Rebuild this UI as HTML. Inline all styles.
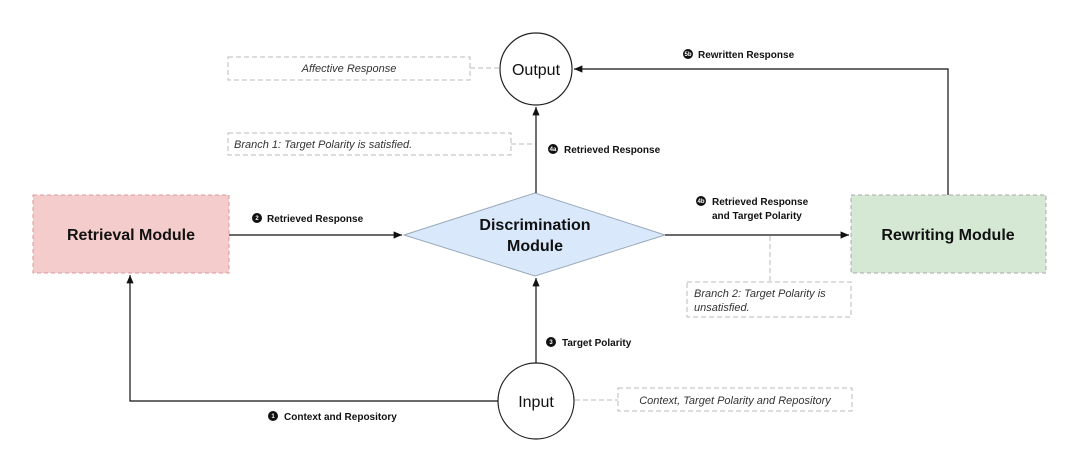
<!DOCTYPE html>
<html><head><style>
body{margin:0;background:#fff;}
svg text{font-family:"Liberation Sans",sans-serif;}
</style></head><body>
<svg width="1080" height="457" viewBox="0 0 1080 457" xmlns="http://www.w3.org/2000/svg">
<defs><marker id="a" markerWidth="8" markerHeight="8" refX="7" refY="4" orient="auto"><path d="M0,1 L7,4 L0,7 z" fill="#111"/></marker></defs>
<g fill="none" stroke="#bbb" stroke-dasharray="5,3">
<rect x="228" y="57" width="242" height="23"/>
<line x1="470" y1="68" x2="499" y2="68"/>
<rect x="228" y="133" width="283" height="22"/>
<line x1="511" y1="144" x2="536" y2="144"/>
<rect x="687" y="282" width="164" height="35"/>
<line x1="770" y1="236" x2="770" y2="282"/>
<rect x="618" y="388" width="234" height="23"/>
<line x1="575" y1="400" x2="618" y2="400"/>
</g>
<rect x="33" y="195" width="196" height="78" fill="#f4cccc" stroke="#d99" stroke-dasharray="4,3"/>
<rect x="851" y="195" width="195" height="78" fill="#d5e8d4" stroke="#aaa" stroke-dasharray="4,3"/>
<polygon points="404,235 535,193 665,235 535,276" fill="#dae8fc" stroke="#9ab"/>
<circle cx="536" cy="69" r="36" fill="#fff" stroke="#222" stroke-width="1.2"/>
<circle cx="536" cy="401" r="38" fill="#fff" stroke="#222" stroke-width="1.2"/>
<g stroke="#111" stroke-width="1.2" fill="none">
<line x1="229" y1="235" x2="402" y2="235" marker-end="url(#a)"/>
<line x1="665" y1="235" x2="849" y2="235" marker-end="url(#a)"/>
<line x1="536" y1="193" x2="536" y2="107" marker-end="url(#a)"/>
<line x1="536" y1="363" x2="536" y2="278" marker-end="url(#a)"/>
<polyline points="498,401 130,401 130,275" marker-end="url(#a)"/>
<polyline points="948,195 948,69 574,69" marker-end="url(#a)"/>
</g>
<g font-size="16" font-weight="bold" fill="#111" text-anchor="middle">
<text x="131" y="240">Retrieval Module</text>
<text x="948" y="240">Rewriting Module</text>
<text x="535" y="230">Discrimination</text>
<text x="535" y="251">Module</text>
</g>
<text x="536" y="75" font-size="16" text-anchor="middle" fill="#111">Output</text>
<text x="536" y="407" font-size="16" text-anchor="middle" fill="#111">Input</text>
<g font-size="11" font-style="italic" fill="#333">
<text x="349" y="72" text-anchor="middle">Affective Response</text>
<text x="234" y="148">Branch 1: Target Polarity is satisfied.</text>
<text x="694" y="297">Branch 2: Target Polarity is</text>
<text x="694" y="311">unsatisfied.</text>
<text x="735" y="404" text-anchor="middle">Context, Target Polarity and Repository</text>
</g>
<g font-size="10" font-weight="bold" fill="#111">
<circle cx="257" cy="218" r="5"/><text x="267" y="222">Retrieved Response</text>
<circle cx="553" cy="149" r="5"/><text x="564" y="153">Retrieved Response</text>
<circle cx="701" cy="201" r="5"/><text x="712" y="205">Retrieved Response</text><text x="712" y="219">and Target Polarity</text>
<circle cx="688" cy="54" r="5"/><text x="698" y="58">Rewritten Response</text>
<circle cx="551" cy="342" r="5"/><text x="562" y="346">Target Polarity</text>
<circle cx="273" cy="416" r="5"/><text x="284" y="420">Context and Repository</text>
</g>
<g font-size="6" font-weight="bold" fill="#fff" text-anchor="middle">
<text x="257" y="220">2</text><text x="553" y="151">4a</text><text x="701" y="203">4b</text><text x="688" y="56">5b</text><text x="551" y="344">3</text><text x="273" y="418">1</text>
</g>
</svg>
</body></html>
